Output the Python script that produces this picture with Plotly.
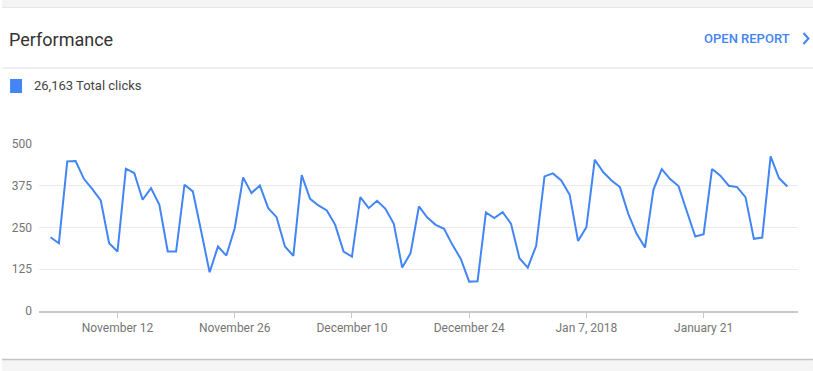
import pandas as pd
import plotly.graph_objects as go

# ---- data ----
start_date = "2017-11-04"
clicks = [221, 203, 448, 449, 395, 365, 331, 203, 178, 426,
          413, 333, 368, 318, 178, 178, 378, 358, 238, 116,
          193, 166, 248, 400, 353, 376, 308, 281, 193, 165,
          407, 336, 316, 301, 258, 178, 163, 341, 308, 330,
          306, 261, 130, 173, 313, 280, 258, 246, 198, 156,
          88, 89, 295, 278, 296, 261, 158, 130, 195, 403,
          412, 391, 348, 210, 251, 453, 416, 391, 371, 291,
          231, 190, 363, 425, 395, 374, 298, 223, 230, 425,
          405, 375, 371, 341, 216, 220, 463, 398, 373]
dates = pd.date_range(start_date, periods=len(clicks), freq="D")

tick_dates = ["2017-11-12", "2017-11-26", "2017-12-10", "2017-12-24", "2018-01-07", "2018-01-21"]
tick_labels = ["November 12", "November 26", "December 10", "December 24", "Jan 7, 2018", "January 21"]
y_ticks = [0, 125, 250, 375, 500]
y_tick_labels = ["0", "125", "250", "375", "500"]

title_text = "Performance"
link_text = "OPEN REPORT"
legend_text = "26,163 Total clicks"

# ---- geometry helpers (page pixels -> paper coords) ----
W, H = 813, 371
ML, MR, MT, MB = 37, 15, 144, 60
PW, PH = W - ML - MR, H - MT - MB


def px(x):
    return (x - ML) / PW


def py(y):
    return (H - MB - y) / PH


BLUE = "#4285f4"
FONT = "Roboto"

fig = go.Figure()
fig.add_trace(go.Scatter(
    x=dates, y=clicks, mode="lines",
    line=dict(color=BLUE, width=2),
    hoverinfo="skip", showlegend=False,
))

shapes = [
    # top grey band
    dict(type="rect", xref="paper", yref="paper", x0=px(0), x1=px(W), y0=py(0), y1=py(7),
         fillcolor="#f4f4f4", line=dict(width=0), layer="below"),
    dict(type="line", xref="paper", yref="paper", x0=px(0), x1=px(W), y0=py(7.5), y1=py(7.5),
         line=dict(color="#e6e6e6", width=1)),
    # divider below header
    dict(type="line", xref="paper", yref="paper", x0=px(0), x1=px(W), y0=py(68), y1=py(68),
         line=dict(color="#e0e0e0", width=1)),
    # bottom card edge
    dict(type="rect", xref="paper", yref="paper", x0=px(0), x1=px(W), y0=py(360), y1=py(H),
         fillcolor="#f5f5f5", line=dict(width=0), layer="below"),
    dict(type="line", xref="paper", yref="paper", x0=px(0), x1=px(W), y0=py(359.5), y1=py(359.5),
         line=dict(color="#c4c4c4", width=1.5)),
    # legend swatch
    dict(type="rect", xref="paper", yref="paper", x0=px(8), x1=px(20), y0=py(79), y1=py(93),
         fillcolor=BLUE, line=dict(width=0)),
    # chevron
    dict(type="path", xref="paper", yref="paper",
         path=f"M {px(803.5)} {py(33)} L {px(808.5)} {py(38.5)} L {px(803.5)} {py(44)}",
         line=dict(color=BLUE, width=2)),
]

annotations = [
    dict(text=title_text, xref="paper", yref="paper", x=px(5), y=py(39),
         xanchor="left", yanchor="middle", showarrow=False,
         font=dict(family=FONT, size=18, color="#333333")),
    dict(text=link_text, xref="paper", yref="paper", x=px(792), y=py(38.5),
         xanchor="right", yanchor="middle", showarrow=False,
         font=dict(family="Roboto Medium, " + FONT, size=13, color=BLUE)),
    dict(text=legend_text, xref="paper", yref="paper", x=px(30), y=py(86),
         xanchor="left", yanchor="middle", showarrow=False,
         font=dict(family=FONT, size=13, color="#444444")),
]

fig.update_layout(
    width=W, height=H,
    margin=dict(l=ML, r=MR, t=MT, b=MB, pad=0),
    paper_bgcolor="white", plot_bgcolor="white",
    shapes=shapes, annotations=annotations,
    font=dict(family=FONT, size=12, color="#757575"),
    xaxis=dict(
        type="date",
        range=["2017-11-02 15:00", "2018-02-01 06:30"],
        tickvals=tick_dates, ticktext=tick_labels,
        showgrid=False, zeroline=False,
        showline=True, linecolor="#c8c8c8", linewidth=2,
        ticks="outside", ticklen=5, tickcolor="#c8c8c8", tickwidth=1,
        tickfont=dict(family=FONT, size=12, color="#757575"),
        fixedrange=True,
    ),
    yaxis=dict(
        range=[0, 500],
        tickvals=y_ticks, ticktext=y_tick_labels,
        showgrid=True, gridcolor="#ebebeb", gridwidth=1,
        zeroline=False, showline=False, ticks="",
        ticklabelstandoff=6,
        tickfont=dict(family=FONT, size=12, color="#757575"),
        fixedrange=True,
    ),
)

fig.write_html(
    "out.html",
    config={"displayModeBar": False},
    post_script="document.body.style.margin='0';document.body.style.overflow='hidden';",
)
